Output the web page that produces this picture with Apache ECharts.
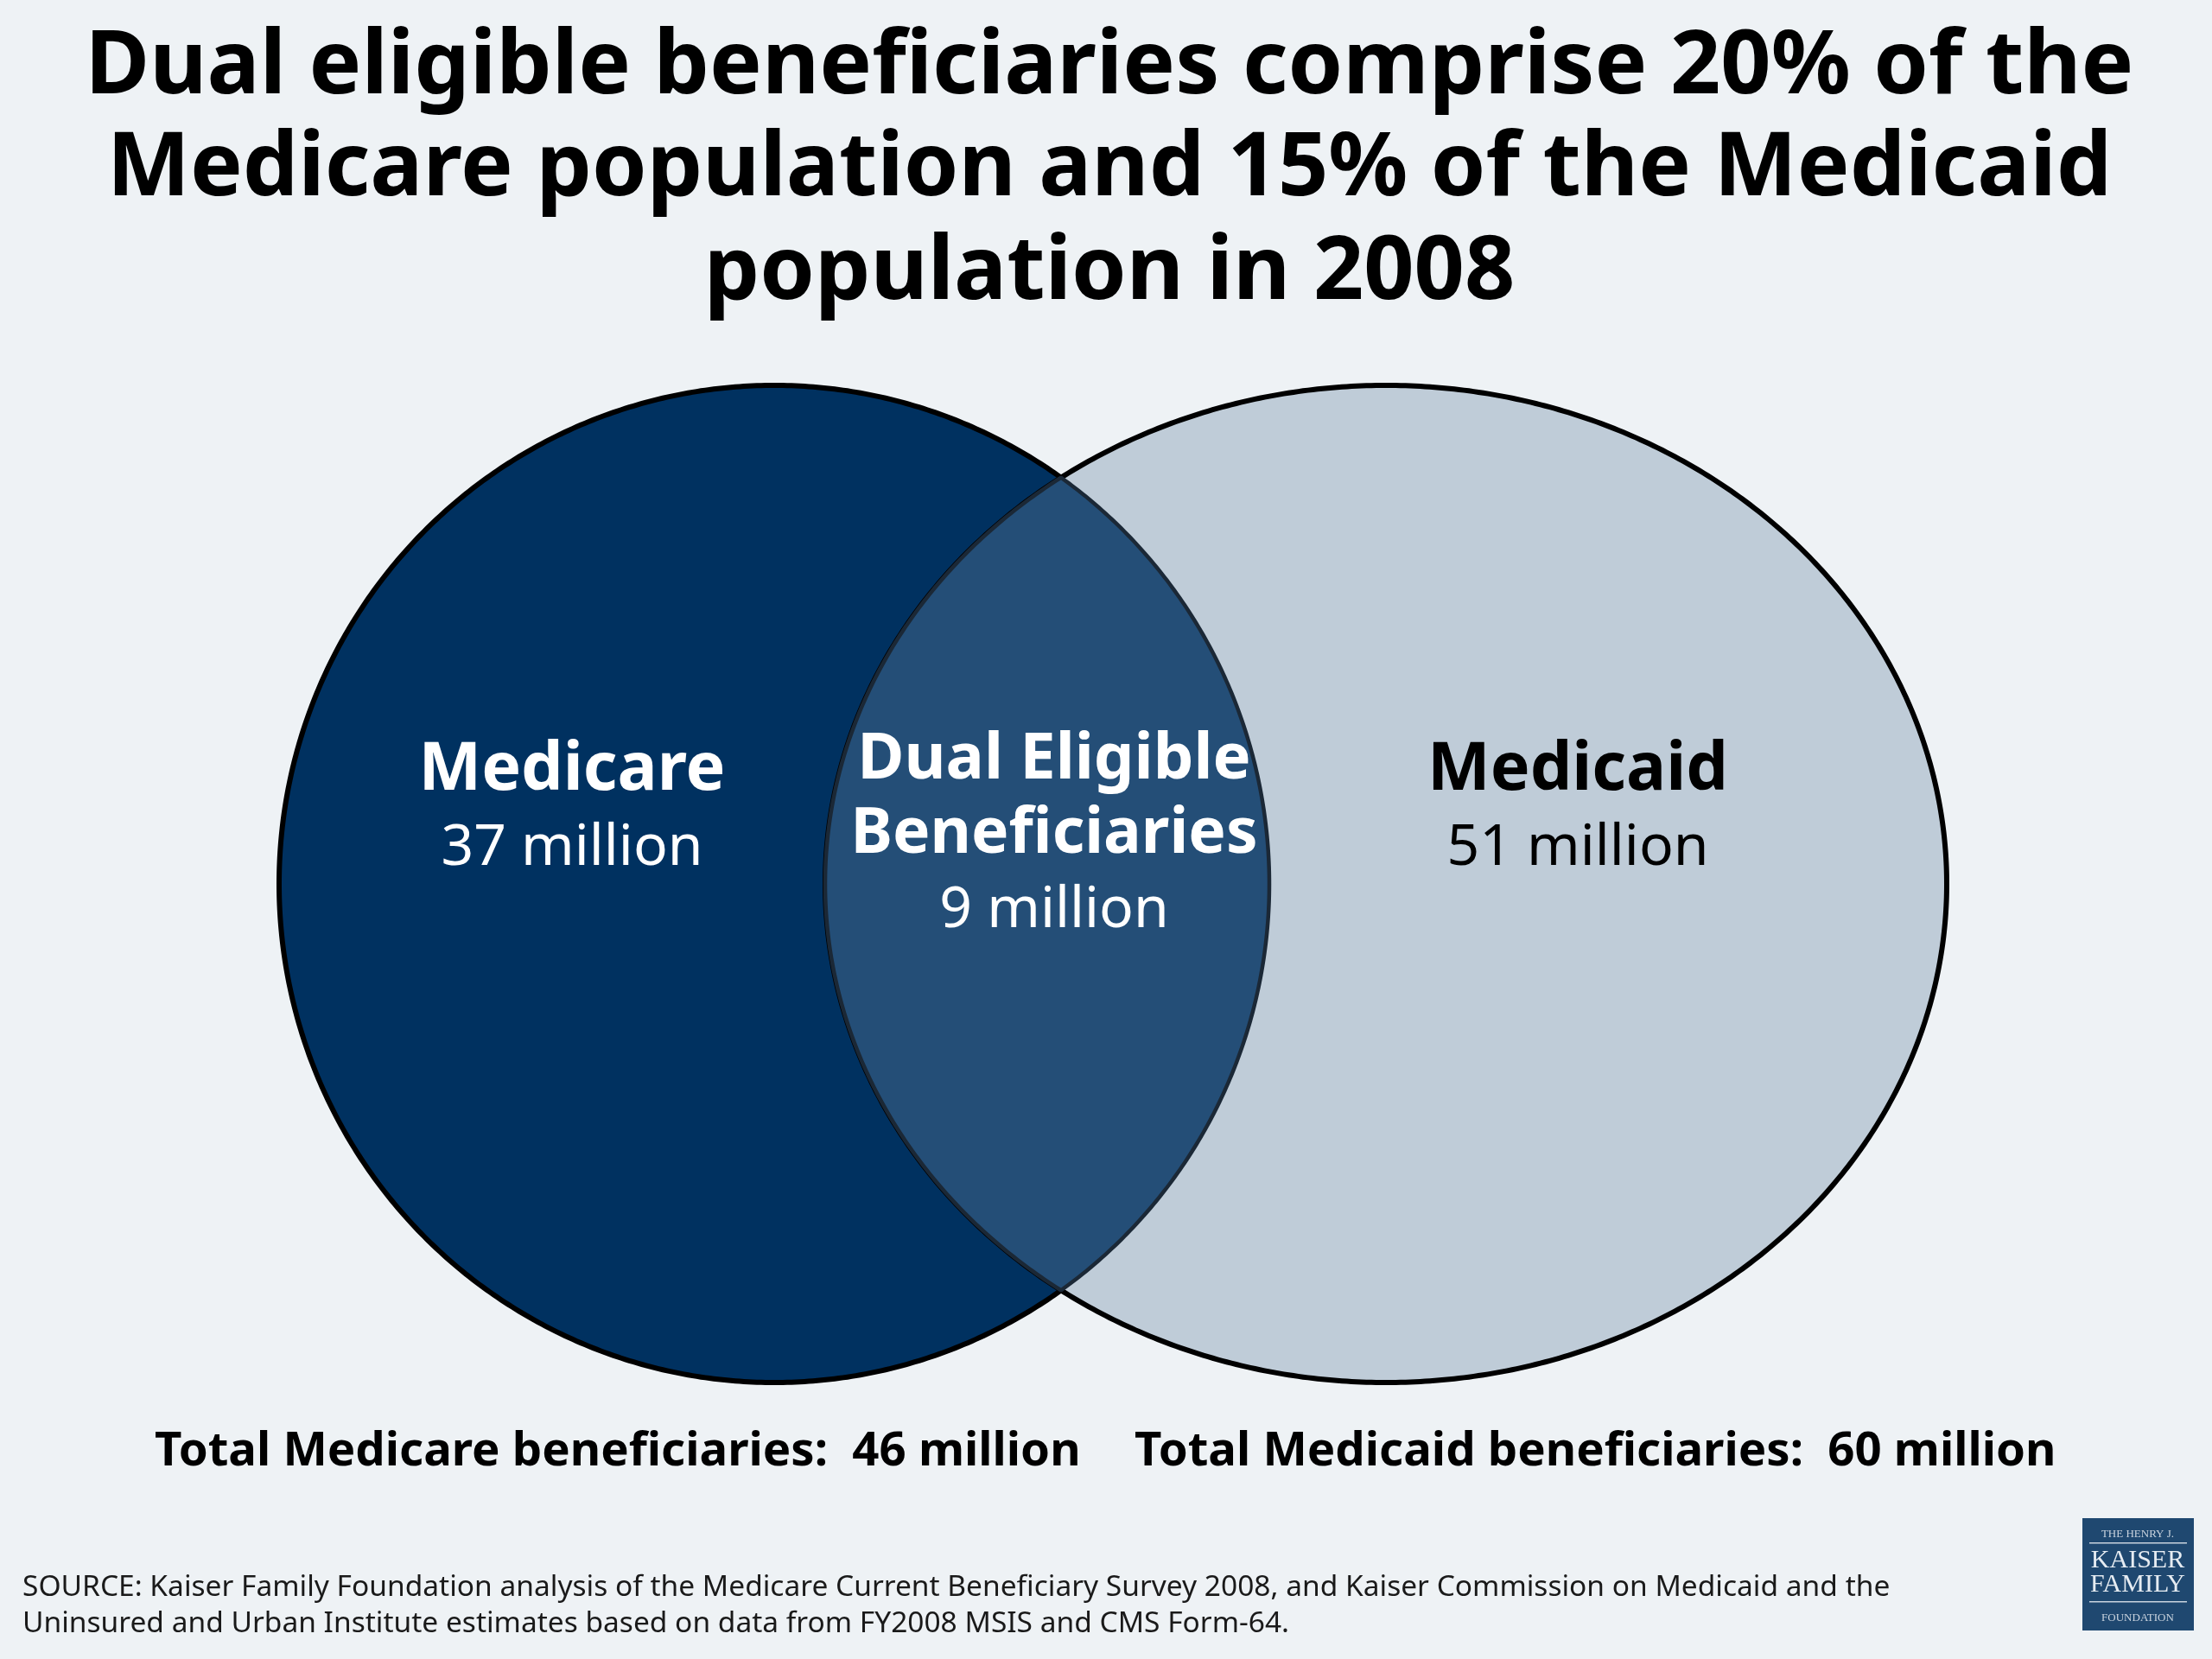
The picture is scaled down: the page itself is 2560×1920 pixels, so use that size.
<!DOCTYPE html>
<html><head><meta charset="utf-8">
<script src="https://cdn.jsdelivr.net/npm/echarts@6/dist/echarts.min.js"></script>
<style>html,body{margin:0;padding:0;background:#eef2f5}#c{width:2560px;height:1920px}</style>
</head><body><div id="c"></div>
<script>
// ---- data ----
const titleLines = ['Dual eligible beneficiaries comprise 20% of the', 'Medicare population and 15% of the Medicaid', 'population in 2008'];
const setNames = ['Medicare', 'Medicaid'];
const setOnlyValues = [37, 51];          // million, beneficiaries in one program only
const overlapNameLines = ['Dual Eligible', 'Beneficiaries'];
const overlapValue = 9;                  // million
const totalLabels = ['Total Medicare beneficiaries:', 'Total Medicaid beneficiaries:'];
const totalValues = [46, 60];            // million
const unitText = 'million';
const sourceLines = ['SOURCE: Kaiser Family Foundation analysis of the Medicare Current Beneficiary Survey 2008, and Kaiser Commission on Medicaid and the', 'Uninsured and Urban Institute estimates based on data from FY2008 MSIS and CMS Form-64.'];

// ---- layout / style ----
const FONT = '"Noto Sans", "Open Sans", sans-serif';
const BG = '#eef2f5';
const ellipses = [
  { cx: 896, cy: 1023, rx: 573, ry: 577, fill: '#003160' },
  { cx: 1604, cy: 1023, rx: 649, ry: 577, fill: '#bfccd8' }
];
const lensFill = '#244e77';
const labelPos = {
  set: [{ x: 662, nameBase: 922, valBase: 1008, color: '#ffffff' }, { x: 1826, nameBase: 922, valBase: 1008, color: '#000000' }],
  lens: { x: 1220, bases: [909, 995], valBase: 1080 }
};
const NAME_SIZE = 75, VAL_SIZE = 66;

function ellPoint(e, t) { return [e.cx + e.rx * Math.cos(t), e.cy + e.ry * Math.sin(t)]; }
function inside(e, p) { const dx = (p[0] - e.cx) / e.rx, dy = (p[1] - e.cy) / e.ry; return dx * dx + dy * dy <= 1; }
const N = 720;

function renderItem(params, api) {
  const k = params.dataIndex;
  const children = [];
  if (k < 2) {
    const e = ellipses[k];
    const pts = [];
    for (let i = 0; i < N; i++) pts.push(api.coord(ellPoint(e, i / N * 2 * Math.PI)));
    children.push({ type: 'polygon', shape: { points: pts }, style: { fill: e.fill, stroke: '#000', lineWidth: 6 } });
  } else {
    const A = ellipses[0], B = ellipses[1];
    const arcA = [], arcB = [];
    for (let i = 0; i <= N; i++) {
      const t = -Math.PI + i / N * 2 * Math.PI;
      const p = ellPoint(A, t);
      if (inside(B, p)) arcA.push(api.coord(p));
    }
    for (let i = 0; i <= N; i++) {
      const t = i / N * 2 * Math.PI;
      const p = ellPoint(B, t);
      if (inside(A, p)) arcB.push(api.coord(p));
    }
    const pts = arcA.concat(arcB);
    children.push({ type: 'polygon', shape: { points: pts }, style: { fill: lensFill, stroke: '#1b2836', lineWidth: 4.5 } });
  }
  return { type: 'group', children };
}

function txt(text, x, base, size, weight, color, align) {
  const p = [x, base - 0.39 * size];
  return { type: 'text', x: p[0], y: p[1], style: { text, fill: color, fontSize: size, fontWeight: weight, fontFamily: FONT, align: align || 'center', textAlign: align || 'center', verticalAlign: 'middle', textVerticalAlign: 'middle' } };
}

function renderLabels(params, api) {
  const k = params.dataIndex;
  const ch = [];
  const toPx = (x, y) => api.coord([x, y]);
  if (k < 2) {
    const L = labelPos.set[k];
    const a = toPx(L.x, L.nameBase), b = toPx(L.x, L.valBase);
    ch.push(txt(setNames[k], a[0], a[1], NAME_SIZE + 2, 'bold', L.color));
    ch.push(txt(setOnlyValues[k] + ' ' + unitText, b[0], b[1], VAL_SIZE, 'normal', L.color));
  } else {
    const L = labelPos.lens;
    overlapNameLines.forEach((s, i) => { const a = toPx(L.x, L.bases[i]); ch.push(txt(s, a[0], a[1], i === 0 ? NAME_SIZE - 1 : NAME_SIZE - 2, 'bold', '#ffffff')); });
    const b = toPx(L.x, L.valBase);
    ch.push(txt(overlapValue + ' ' + unitText, b[0], b[1], VAL_SIZE, 'normal', '#ffffff'));
  }
  return { type: 'group', children: ch };
}

const graphics = [];
const titleBases = [119, 237, 357];
titleLines.forEach((s, i) => graphics.push(txt(s, 1284, titleBases[i], 102, 'bold', '#000000')));
const totalX = [179, 1313];
totalLabels.forEach((s, i) => graphics.push(txt(s + '  ' + totalValues[i] + ' ' + unitText, totalX[i], 1702, 54.5, 'bold', '#000000', 'left')));
const srcBases = [1851, 1893];
sourceLines.forEach((s, i) => graphics.push(txt(s, 26, srcBases[i], 33.5, 'normal', '#1a1a1a', 'left')));
// logo
const SERIF = '"Liberation Serif", "DejaVu Serif", serif';
graphics.push({
  type: 'group', children: [
    { type: 'rect', shape: { x: 2410, y: 1757, width: 129, height: 130 }, style: { fill: '#1f4870' } },
    { type: 'text', x: 2474, y: 1776, style: { text: 'THE HENRY J.', fill: '#c9d3de', fontSize: 13, fontFamily: SERIF, align: 'center', verticalAlign: 'middle' } },
    { type: 'rect', shape: { x: 2418, y: 1785, width: 113, height: 1.5 }, style: { fill: '#c9d3de' } },
    { type: 'text', x: 2474, y: 1806, style: { text: 'KAISER', fill: '#e6ecf2', fontSize: 30, fontFamily: SERIF, align: 'center', verticalAlign: 'middle' } },
    { type: 'text', x: 2474, y: 1834, style: { text: 'FAMILY', fill: '#e6ecf2', fontSize: 30, fontFamily: SERIF, align: 'center', verticalAlign: 'middle' } },
    { type: 'rect', shape: { x: 2418, y: 1853, width: 113, height: 1.5 }, style: { fill: '#c9d3de' } },
    { type: 'text', x: 2474, y: 1873, style: { text: 'FOUNDATION', fill: '#c9d3de', fontSize: 13, fontFamily: SERIF, align: 'center', verticalAlign: 'middle' } }
  ]
});

const chart = echarts.init(document.getElementById('c'), null, { renderer: 'canvas' });
chart.setOption({
  backgroundColor: BG,
  animation: false,
  grid: { left: 0, right: 0, top: 0, bottom: 0 },
  xAxis: { type: 'value', min: 0, max: 2560, show: false },
  yAxis: { type: 'value', min: 0, max: 1920, inverse: true, show: false },
  series: [
    { type: 'custom', name: 'sets', renderItem, data: [[0], [1], [2]], silent: true, z: 1 },
    { type: 'custom', name: 'labels', renderItem: renderLabels, data: [[0], [1], [2]], silent: true, z: 5 }
  ],
  graphic: graphics
});
</script></body></html>
